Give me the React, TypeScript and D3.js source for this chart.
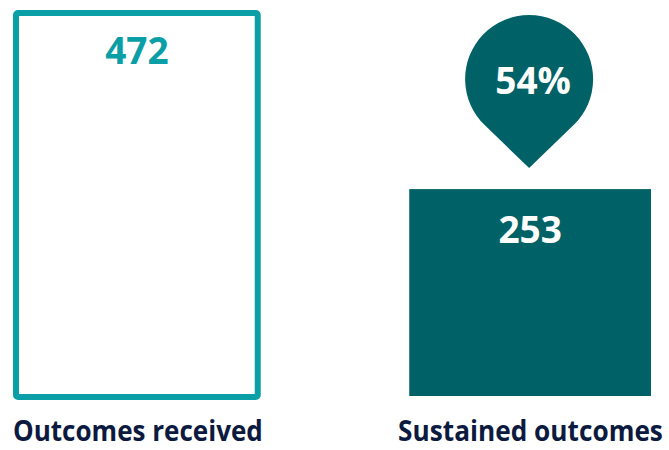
import React, { useEffect, useRef } from 'react'
import * as d3 from 'd3'

const categories = ['Outcomes received', 'Sustained outcomes']
const values = [472, 253]
const valueLabels = ['472', '253']
const pinLabel = '54%'

const W = 669
const H = 450

export default function App() {
  const svgRef = useRef<SVGSVGElement | null>(null)

  useEffect(() => {
    if (!svgRef.current) return
    const svg = d3.select(svgRef.current)
    svg.selectAll('*').remove()

    const x = d3.scaleBand<string>().domain(categories).range([13, 654]).paddingInner(0.37).paddingOuter(0)
    const y = d3.scaleLinear().domain([0, d3.max(values) || 1]).range([396, 10])
    const bw = x.bandwidth()
    const font = '"Open Sans", "Noto Sans", sans-serif'

    // outlined bar (received)
    const sw = 6
    const x0 = x(categories[0]) || 0
    svg.append('rect')
      .attr('x', x0 + sw / 2)
      .attr('y', y(values[0]) + sw / 2)
      .attr('width', bw - sw)
      .attr('height', y(0) - y(values[0]) - sw / 2 + 1)
      .attr('rx', 2)
      .attr('fill', 'none')
      .attr('stroke', '#0A9FA6')
      .attr('stroke-width', sw)

    // filled bar (sustained)
    const x1 = (x(categories[1]) || 0) + 3
    const w1 = bw - 6
    svg.append('rect')
      .attr('x', x1)
      .attr('y', y(values[1]))
      .attr('width', w1)
      .attr('height', y(0) - y(values[1]))
      .attr('fill', '#006266')

    const centers = [x0 + bw / 2, x1 + w1 / 2]

    // value labels
    values.forEach((v, i) => {
      svg.append('text')
        .attr('x', centers[i])
        .attr('y', y(v) + 54)
        .attr('text-anchor', 'middle')
        .attr('font-family', font)
        .attr('font-weight', 700)
        .attr('font-size', 37)
        .attr('fill', i === 0 ? '#0A9FA6' : '#ffffff')
        .text(valueLabels[i])
    })

    // pin above the sustained bar
    const cx = centers[1] - 1
    const tipY = y(values[1]) - 21
    const cy = tipY - 89
    const r = 64
    const d = tipY - cy
    const a = Math.asin(r / d)
    const tx = r * Math.cos(a)
    const ty = cy + r * Math.sin(a)
    const p = d3.path()
    p.moveTo(cx, tipY)
    p.lineTo(cx - tx, ty)
    p.arc(cx, cy, r, Math.PI - a, 2 * Math.PI + a, false)
    p.closePath()
    svg.append('path').attr('d', p.toString()).attr('fill', '#006266')

    svg.append('text')
      .attr('x', cx + 4)
      .attr('y', cy + 15)
      .attr('text-anchor', 'middle')
      .attr('font-family', font)
      .attr('font-weight', 700)
      .attr('font-size', 37)
      .attr('fill', '#ffffff')
      .text(pinLabel)

    // category labels, condensed to the reference widths
    const labelWidths = [250, 265]
    categories.forEach((c, i) => {
      const g = svg.append('g')
      const t = g.append('text')
        .attr('x', 0)
        .attr('y', 0)
        .attr('text-anchor', 'middle')
        .attr('font-family', font)
        .attr('font-weight', 700)
        .attr('font-size', 28)
        .attr('fill', '#0B1A3E')
        .text(c)
      const len = (t.node() as SVGTextElement).getComputedTextLength() || labelWidths[i]
      const sx = Math.min(1, labelWidths[i] / len)
      const cxl = i === 0 ? centers[0] + 1 : 530.5
      g.attr('transform', `translate(${cxl},441) scale(${sx},1)`)
    })
  }, [])

  return (
    <div style={{ position: 'absolute', left: 0, top: 0, width: W, height: H, background: '#fff' }}>
      <svg ref={svgRef} width={W} height={H} style={{ display: 'block' }} />
    </div>
  )
}
